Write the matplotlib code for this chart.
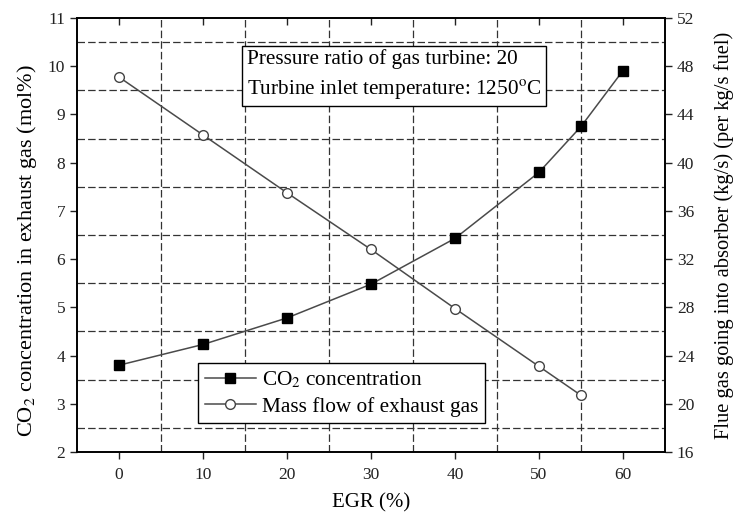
import matplotlib
matplotlib.use("Agg")
import matplotlib.pyplot as plt

plt.rcParams['font.family'] = ['Liberation Serif', 'DejaVu Serif']
plt.rcParams['mathtext.fontset'] = 'stix'

# data
egr_co2 = [0, 10, 20, 30, 40, 50, 55, 60]
co2_conc = [3.8, 4.23, 4.78, 5.48, 6.43, 7.80, 8.75, 9.91]

egr_flow = [0, 10, 20, 30, 40, 50, 55]
mass_flow = [47.1, 42.3, 37.5, 32.8, 27.9, 23.1, 20.7]

x_ticks = [0, 10, 20, 30, 40, 50, 60]
left_ticks = [2, 3, 4, 5, 6, 7, 8, 9, 10, 11]
right_ticks = [16, 20, 24, 28, 32, 36, 40, 44, 48, 52]
grid_x = [5, 15, 25, 35, 45, 55]
grid_y = [2.5, 3.5, 4.5, 5.5, 6.5, 7.5, 8.5, 9.5, 10.5]

fig = plt.figure(figsize=(7.34, 5.14), dpi=100)
ax = fig.add_axes([0.1049, 0.1206, 0.8011, 0.8444])
ax2 = ax.twinx()

ax.set_xlim(-5, 65)
ax.set_ylim(2, 11)
ax2.set_ylim(16, 52)

ax.set_xticks(x_ticks)
ax.set_yticks(left_ticks)
ax2.set_yticks(right_ticks)
ax.set_xticks(grid_x, minor=True)
ax.set_yticks(grid_y, minor=True)
ax.grid(which='minor', color='#333333', linestyle=(0, (6, 2.5)), linewidth=0.9)
ax.tick_params(which='minor', length=0)
ax.tick_params(axis='both', which='major', direction='out', length=5, width=1,
               labelsize=12.5, top=True, colors='#222222')
ax.tick_params(axis='x', which='major', pad=6)
ax2.tick_params(axis='y', direction='out', length=5, width=1, labelsize=12.5,
                colors='#222222')
# top ticks point inward
for t in ax.xaxis.get_major_ticks():
    t.tick2line.set_marker(3)

line_color = '#4a4a4a'
h1, = ax.plot(egr_co2, co2_conc, color=line_color, linewidth=1.1, marker='s',
              markersize=7, markerfacecolor='black', markeredgecolor='black',
              label='CO$_2$ concentration', zorder=5)
h2, = ax2.plot(egr_flow, mass_flow, color=line_color, linewidth=1.1, marker='o',
               markersize=7, markerfacecolor='white', markeredgecolor='#444444',
               label='Mass flow of exhaust gas', zorder=5)

ax.set_xlabel('EGR (%)', fontsize=15, labelpad=7)
ax.set_ylabel('CO$_2$ concentration in exhaust gas (mol%)', fontsize=16)
ax.yaxis.set_label_coords(-0.064, 0.465)
ax2.set_ylabel('Flue gas going into absorber (kg/s) (per kg/s fuel)', fontsize=14.8,
               labelpad=14)

ax.text(0.289, 0.868, 'Pressure ratio of gas turbine: 20\nTurbine inlet temperature: 1250$^{\\rm o}$C',
        transform=ax.transAxes, fontsize=15.3, va='center', ha='left', linespacing=1.6,
        bbox=dict(boxstyle='square,pad=0.22', facecolor='white', edgecolor='black', linewidth=1),
        zorder=6)

leg = ax2.legend([h1, h2], ['CO$_2$ concentration', 'Mass flow of exhaust gas'],
                 loc='lower left', bbox_to_anchor=(0.206, 0.067), fontsize=15.3,
                 fancybox=False, edgecolor='black', framealpha=1, handlelength=2.4,
                 borderpad=0.3, labelspacing=0.3, handletextpad=0.3, borderaxespad=0)
leg.get_frame().set_linewidth(1)

for a in (ax, ax2):
    for s in a.spines.values():
        s.set_linewidth(1.2)

fig.savefig('out.png', dpi=100)
